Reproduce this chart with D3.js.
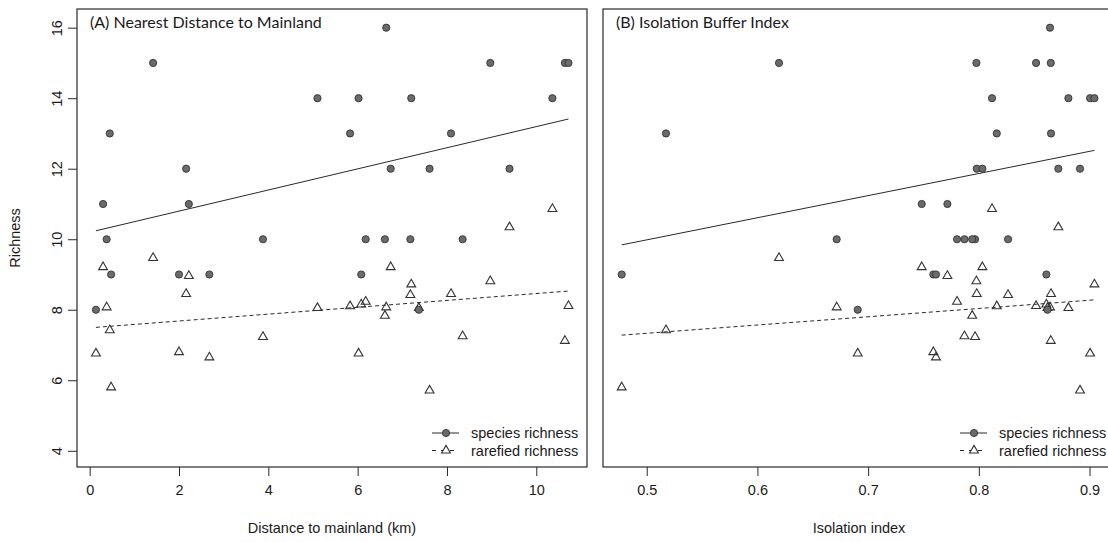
<!DOCTYPE html>
<html>
<head>
<meta charset="utf-8">
<script src="https://cdn.jsdelivr.net/npm/d3@7"></script>
<style>
  body { margin: 0; background: #fff; }
  svg text { fill: #1a1a1a; }
</style>
</head>
<body>
<div id="chart"></div>
<script>
// one entry per island, same order in every array
const distKm = [1.42, 5.10, 0.45, 2.16, 0.30, 2.22, 0.38, 3.88, 6.64, 8.97,
                10.64, 10.72, 6.02, 7.20, 10.36, 5.83, 8.09, 6.74, 7.61, 9.40,
                6.18, 6.61, 7.18, 8.35, 0.48, 2.00, 2.68, 6.08, 0.14, 7.37];
const isoIndex = [0.6195, 0.8809, 0.5174, 0.7981, 0.7484, 0.7716, 0.6716, 0.7966, 0.8643, 0.7978,
                  0.8650, 0.8517, 0.9005, 0.9044, 0.8119, 0.8162, 0.8652, 0.8032, 0.8914, 0.8718,
                  0.7803, 0.7940, 0.8264, 0.7870, 0.4774, 0.7589, 0.7613, 0.8610, 0.6906, 0.8620];
const richness = [15, 14, 13, 12, 11, 11, 10, 10, 16, 15,
                  15, 15, 14, 14, 14, 13, 13, 12, 12, 12,
                  10, 10, 10, 10, 9, 9, 9, 9, 8, 8];
const rarefied = [9.47, 8.05, 7.42, 8.45, 9.21, 8.96, 8.07, 7.23, 8.07, 8.81,
                  7.12, 8.11, 6.76, 8.72, 10.86, 8.10, 8.45, 9.21, 5.71, 10.34,
                  8.23, 7.83, 8.42, 7.25, 5.80, 6.80, 6.65, 8.15, 6.76, 8.05];

// fitted lines, value at the smallest and at the largest x
const fitDistRich = [10.24, 13.41];
const fitDistRare = [7.50, 8.53];
const fitIsoRich = [9.84, 12.52];
const fitIsoRare = [7.28, 8.28];

const yTicks = [4, 6, 8, 10, 12, 14, 16];
const distTicks = [0, 2, 4, 6, 8, 10];
const isoTicks = [0.5, 0.6, 0.7, 0.8, 0.9];
const legendLabels = ['species richness', 'rarefied richness'];

const W = 1108, H = 542;
const plotTop = 9, plotBottom = 467;
const axisFont = '"Liberation Sans", Arial, sans-serif';
const titleFont = 'Lato, "Noto Sans", sans-serif';
const ink = '#2a2a2a';

const svg = d3.select('#chart').append('svg')
    .attr('width', W)
    .attr('height', H);

const y = d3.scaleLinear().domain([3.54, 16.53]).range([plotBottom, plotTop]);

const panels = [
    {
        x: d3.scaleLinear().domain([-0.284, 11.135]).range([77, 587]),
        xs: distKm, ticks: distTicks, fmt: d3.format('d'),
        fitRich: fitDistRich, fitRare: fitDistRare,
        title: '(A) Nearest Distance to Mainland',
        xlab: 'Distance to mainland (km)', yaxis: true
    },
    {
        x: d3.scaleLinear().domain([0.4605, 0.923]).range([603, 1115]),
        xs: isoIndex, ticks: isoTicks, fmt: d3.format('.1f'),
        fitRich: fitIsoRich, fitRare: fitIsoRare,
        title: '(B) Isolation Buffer Index',
        xlab: 'Isolation index', yaxis: false
    }
];

panels.forEach(p => {
    const [x0, x1] = p.x.range();
    const g = svg.append('g');

    // x axis ticks, hanging below the box
    const xAxis = d3.axisBottom(p.x).tickValues(p.ticks).tickFormat(p.fmt)
        .tickSize(9).tickPadding(9);
    g.append('g')
        .attr('transform', `translate(0,${plotBottom})`)
        .call(xAxis)
        .call(a => a.select('.domain').remove())
        .call(a => a.selectAll('line').attr('stroke', ink))
        .call(a => a.selectAll('text').attr('font-family', axisFont).attr('font-size', 14.5).attr('fill', '#1a1a1a'));

    g.append('text')
        .attr('x', (x0 + x1) / 2)
        .attr('y', 533)
        .attr('text-anchor', 'middle')
        .attr('font-family', axisFont)
        .attr('font-size', 14.5)
        .text(p.xlab);

    if (p.yaxis) {
        const yAxis = d3.axisLeft(y).tickValues(yTicks).tickSize(9).tickPadding(0);
        const ga = g.append('g')
            .attr('transform', `translate(${x0},0)`)
            .call(yAxis)
            .call(a => a.select('.domain').remove())
            .call(a => a.selectAll('line').attr('stroke', ink));
        ga.selectAll('text')
            .attr('font-family', axisFont)
            .attr('font-size', 14.5)
            .attr('fill', '#1a1a1a')
            .attr('x', null)
            .attr('text-anchor', 'middle')
            .attr('transform', 'translate(-20,0) rotate(-90)')
            .attr('dy', '0.35em');

        g.append('text')
            .attr('transform', `translate(20,${(plotTop + plotBottom) / 2}) rotate(-90)`)
            .attr('text-anchor', 'middle')
            .attr('font-family', axisFont)
            .attr('font-size', 14.5)
            .text('Richness');
    }

    // fitted lines
    const ext = d3.extent(p.xs);
    g.append('line')
        .attr('x1', p.x(ext[0])).attr('y1', y(p.fitRich[0]))
        .attr('x2', p.x(ext[1])).attr('y2', y(p.fitRich[1]))
        .attr('stroke', ink).attr('stroke-width', 1);
    g.append('line')
        .attr('x1', p.x(ext[0])).attr('y1', y(p.fitRare[0]))
        .attr('x2', p.x(ext[1])).attr('y2', y(p.fitRare[1]))
        .attr('stroke', ink).attr('stroke-width', 1)
        .attr('stroke-dasharray', '4,3');

    const tri = d3.symbol().type(d3.symbolTriangle).size(34);

    // rarefied richness, open triangles
    g.append('g').selectAll('path')
        .data(d3.range(p.xs.length))
        .join('path')
        .attr('d', tri)
        .attr('transform', i => `translate(${p.x(p.xs[i])},${y(rarefied[i])})`)
        .attr('fill', 'none')
        .attr('stroke', '#333')
        .attr('stroke-width', 1.1);

    // species richness, filled circles
    g.append('g').selectAll('circle')
        .data(d3.range(p.xs.length))
        .join('circle')
        .attr('cx', i => p.x(p.xs[i]))
        .attr('cy', i => y(richness[i]))
        .attr('r', 3.6)
        .attr('fill', '#6b6b6b')
        .attr('stroke', '#333')
        .attr('stroke-width', 0.9);

    // box
    g.append('rect')
        .attr('x', x0).attr('y', plotTop)
        .attr('width', x1 - x0).attr('height', plotBottom - plotTop)
        .attr('fill', 'none')
        .attr('stroke', ink)
        .attr('stroke-width', 1.2);

    g.append('text')
        .attr('x', x0 + 13)
        .attr('y', 28)
        .attr('font-family', titleFont)
        .attr('font-size', 16)
        .attr('fill', '#111')
        .text(p.title);

    // legend, bottom right
    const lg = g.append('g').attr('transform', `translate(${x1 - 155},${plotBottom - 34})`);
    legendLabels.forEach((lab, k) => {
        const ly = k * 17.5;
        lg.append('line')
            .attr('x1', 0).attr('x2', 27)
            .attr('y1', ly).attr('y2', ly)
            .attr('stroke', ink)
            .attr('stroke-dasharray', k ? '4,5' : null);
        if (k === 0) {
            lg.append('circle').attr('cx', 14).attr('cy', ly).attr('r', 3.6)
                .attr('fill', '#6b6b6b').attr('stroke', '#333').attr('stroke-width', 0.9);
        } else {
            lg.append('path').attr('d', tri).attr('transform', `translate(14,${ly})`)
                .attr('fill', '#fff').attr('stroke', '#333').attr('stroke-width', 1.1);
        }
        lg.append('text')
            .attr('x', 39).attr('y', ly)
            .attr('dy', '0.35em')
            .attr('font-family', axisFont)
            .attr('font-size', 14.5)
            .text(lab);
    });
});
</script>
</body>
</html>
